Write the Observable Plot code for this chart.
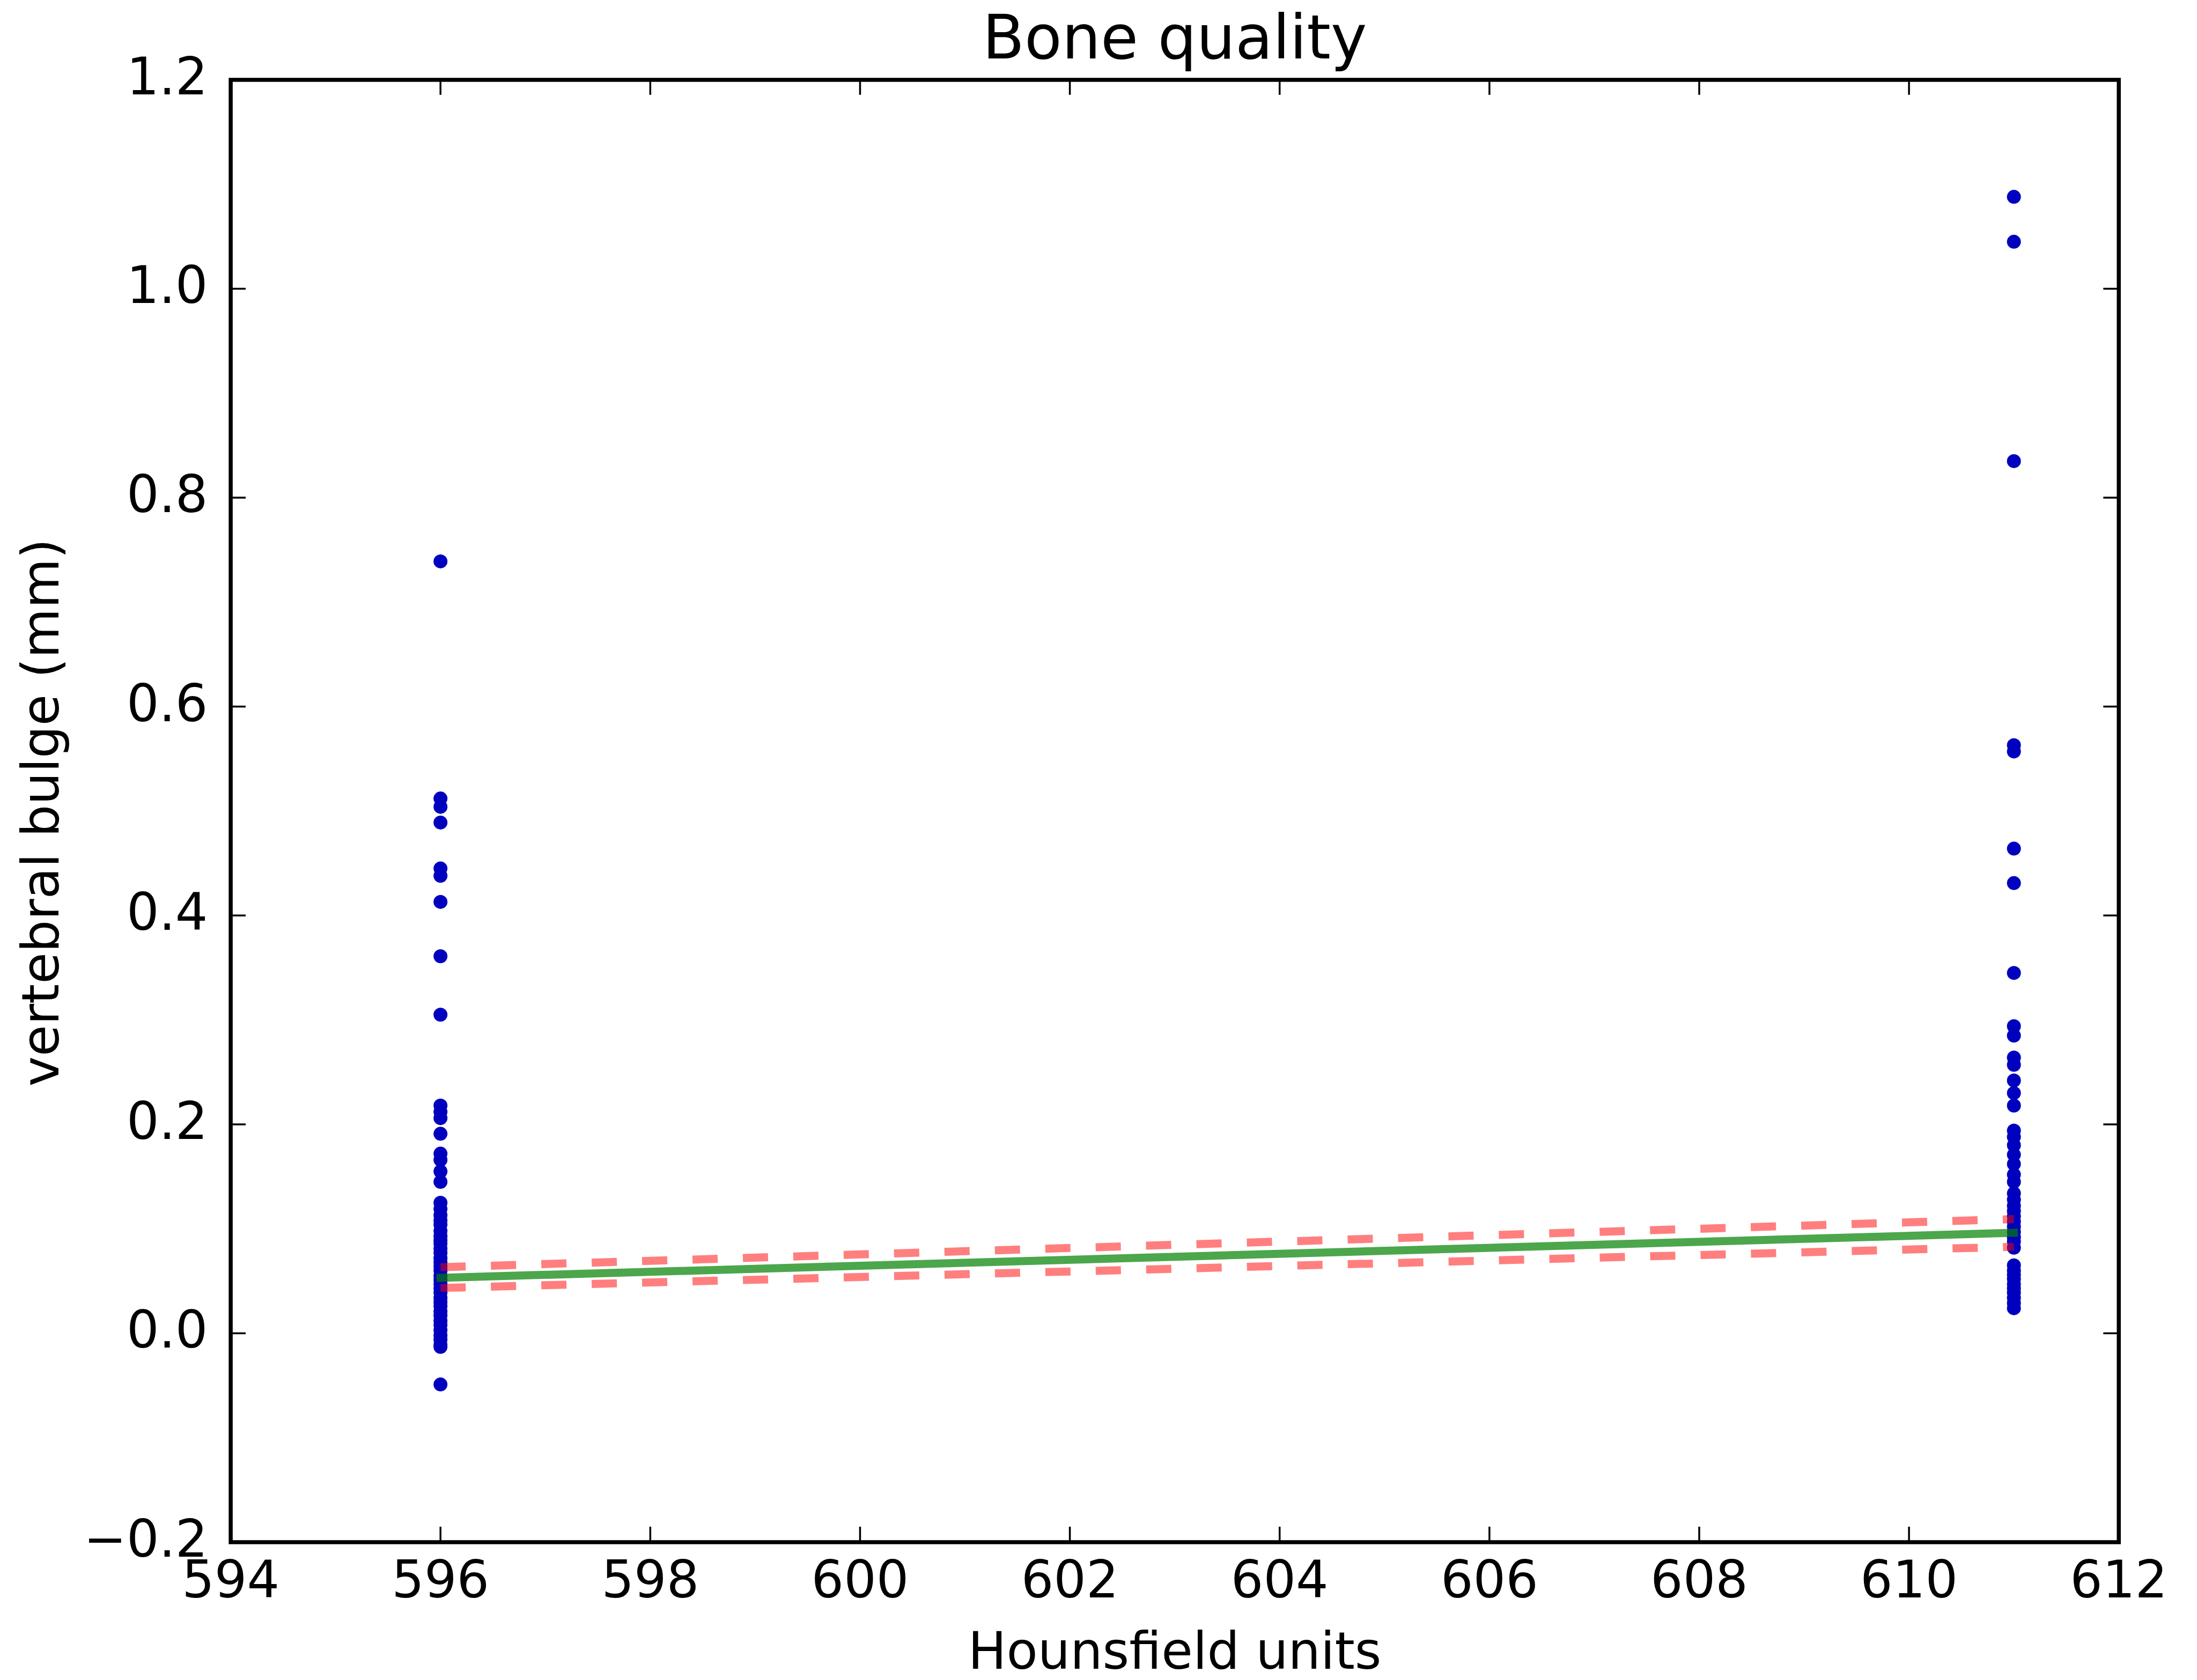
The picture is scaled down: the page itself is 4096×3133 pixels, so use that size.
<!DOCTYPE html>
<html><head><meta charset="utf-8">
<script src="https://cdn.jsdelivr.net/npm/d3@7"></script>
<script src="https://cdn.jsdelivr.net/npm/@observablehq/plot@0.6"></script>
<style>html,body{margin:0;padding:0;background:#fff;overflow:hidden}</style>
</head><body><div id="chart"></div>
<script>
const title = "Bone quality";
const xLabel = "Hounsfield units";
const yLabel = "vertebral bulge (mm)";
const xTicks = [594, 596, 598, 600, 602, 604, 606, 608, 610, 612];
const yTicks = [-0.2, 0.0, 0.2, 0.4, 0.6, 0.8, 1.0, 1.2];

// vertebral bulge values read at 596 HU
const hu596 = [0.739, 0.512, 0.504, 0.489, 0.445, 0.438, 0.413, 0.361, 0.305,
  0.218, 0.212, 0.206, 0.191, 0.172, 0.166, 0.155, 0.145,
  0.125, 0.119, 0.113, 0.108, 0.104, 0.098, 0.093, 0.089, 0.086, 0.081, 0.077,
  0.072, 0.068, 0.064, 0.060, 0.055, 0.051, 0.047, 0.043, 0.039, 0.034, 0.030,
  0.026, 0.021, 0.017, 0.012, 0.008, 0.003, -0.002, -0.006, -0.011, -0.013, -0.049];
// vertebral bulge values read at 611 HU
const hu611 = [1.088, 1.045, 0.835, 0.563, 0.557, 0.464, 0.431, 0.345, 0.294, 0.285,
  0.264, 0.257, 0.242, 0.230, 0.218, 0.194, 0.188, 0.180, 0.171, 0.162, 0.152, 0.145,
  0.134, 0.128, 0.122, 0.117, 0.112, 0.107, 0.102, 0.097, 0.092, 0.088, 0.082,
  0.065, 0.060, 0.056, 0.052, 0.047, 0.043, 0.039, 0.034, 0.029, 0.024];

// fitted line and confidence bounds
const fitX = [596, 611];
const fitY = [0.0531, 0.0962];
const ciUpper = [0.0632, 0.1093];
const ciLower = [0.0434, 0.0828];

const points = [
  ...hu596.map(v => ({hu: 596, bulge: v})),
  ...hu611.map(v => ({hu: 611, bulge: v}))
];
const fit = fitX.map((x, i) => ({x, y: fitY[i], up: ciUpper[i], lo: ciLower[i]}));

const W = 4096, H = 3133;
const mL = 429.6, mR = 146.3, mT = 148.4, mB = 257.5;
const frameW = W - mL - mR, frameH = H - mT - mB;
const tickLen = 28.4;
const fs = 95.3;
const font = "DejaVu Sans";

const chart = Plot.plot({
  width: W, height: H,
  marginLeft: mL, marginRight: mR, marginTop: mT, marginBottom: mB,
  style: {fontFamily: font, background: "white", color: "black"},
  x: {domain: [594, 612], axis: null},
  y: {domain: [-0.2, 1.2], axis: null},
  marks: [
    Plot.dot(points, {x: "hu", y: "bulge", r: 13, fill: "#0000bf", stroke: "none"}),
    Plot.line(fit, {x: "x", y: "y", stroke: "#008000", strokeOpacity: 0.7, strokeWidth: 15, strokeLinecap: "square"}),
    Plot.line(fit, {x: "x", y: "up", stroke: "#ff0000", strokeOpacity: 0.5, strokeWidth: 15, strokeDasharray: "47 47", strokeLinecap: "butt"}),
    Plot.line(fit, {x: "x", y: "lo", stroke: "#ff0000", strokeOpacity: 0.5, strokeWidth: 15, strokeDasharray: "47 47", strokeLinecap: "butt"}),
    // inward ticks on all four sides
    Plot.tickX(xTicks, {x: d => d, stroke: "black", strokeWidth: 3.5, insetTop: frameH - tickLen}),
    Plot.tickX(xTicks, {x: d => d, stroke: "black", strokeWidth: 3.5, insetBottom: frameH - tickLen}),
    Plot.tickY(yTicks, {y: d => d, stroke: "black", strokeWidth: 3.5, insetRight: frameW - tickLen}),
    Plot.tickY(yTicks, {y: d => d, stroke: "black", strokeWidth: 3.5, insetLeft: frameW - tickLen}),
    Plot.frame({stroke: "black", strokeWidth: 7.5}),
    Plot.axisX({anchor: "bottom", ticks: xTicks, tickSize: 0, tickPadding: 35, fontSize: fs, label: null, tickFormat: d => String(d), fill: "black"}),
    Plot.axisY({anchor: "left", ticks: yTicks, tickSize: 0, tickPadding: 42.6, fontSize: fs, label: null, tickFormat: d3.format(".1f"), dy: -3.5, fill: "black"}),
    Plot.text([xLabel], {text: d => d, frameAnchor: "bottom", lineAnchor: "bottom", textAnchor: "middle", dy: 235.5, fontSize: fs, fill: "black"}),
    Plot.text([yLabel], {text: d => d, frameAnchor: "left", lineAnchor: "bottom", textAnchor: "middle", rotate: -90, dx: -321.6, dy: 3, fontSize: fs, fill: "black"}),
    Plot.text([title], {text: d => d, frameAnchor: "top", lineAnchor: "bottom", textAnchor: "middle", dy: -40, fontSize: 114, fill: "black"})
  ]
});
document.getElementById("chart").appendChild(chart);
</script>
</body></html>
